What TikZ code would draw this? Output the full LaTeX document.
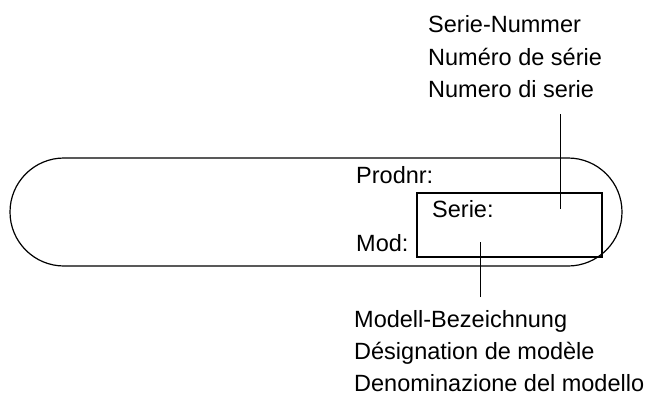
\documentclass[tikz,border=0pt]{standalone}
\usepackage{fontspec}
\setmainfont{Liberation Sans}
\usetikzlibrary{shapes.misc, positioning}

\begin{document}
\begin{tikzpicture}[x=1pt,y=-1pt,
                    plate/.style={rounded rectangle,draw,line width=1.2pt,minimum width=612pt,minimum height=108pt,inner sep=0pt},
                    field/.style={rectangle,draw,line width=1.8pt,minimum width=185pt,minimum height=64pt,inner sep=0pt},
                    txt/.style={anchor=base west,inner sep=0pt,font=\fontsize{23.5}{28}\selectfont},
                    lead/.style={line width=0.9pt}]
\useasboundingbox (0,0) rectangle (650,396);

\node[plate] (Plate) at (316,212) {};
\node[field] (SerieBox) at (509.5,225) {};

\node[txt] (ProdLabel) at (356,183) {Prodnr:};
\node[txt] (SerieLabel) at (432,217) {Serie:};
\node[txt] (ModLabel) at (356,251) {Mod:};

% serial number legend
\node[txt] (SerDe) at (428,33) {Serie-Nummer};
\node[txt] (SerFr) at (428,65) {Numéro de série};
\node[txt] (SerIt) at (428,97) {Numero di serie};

% model legend
\node[txt] (ModDe) at (354,327) {Modell-Bezeichnung};
\node[txt] (ModFr) at (354,359) {Désignation de modèle};
\node[txt] (ModIt) at (354,391) {Denominazione del modello};

\coordinate (SerTop) at (560,114);
\coordinate (SerEnd) at (560,209);
\coordinate (ModEnd) at (480,242);
\coordinate (ModBot) at (480,297);

\draw[lead] (SerTop) -- (SerEnd);
\draw[lead] (ModBot) -- (ModEnd);

\end{tikzpicture}
\end{document}
